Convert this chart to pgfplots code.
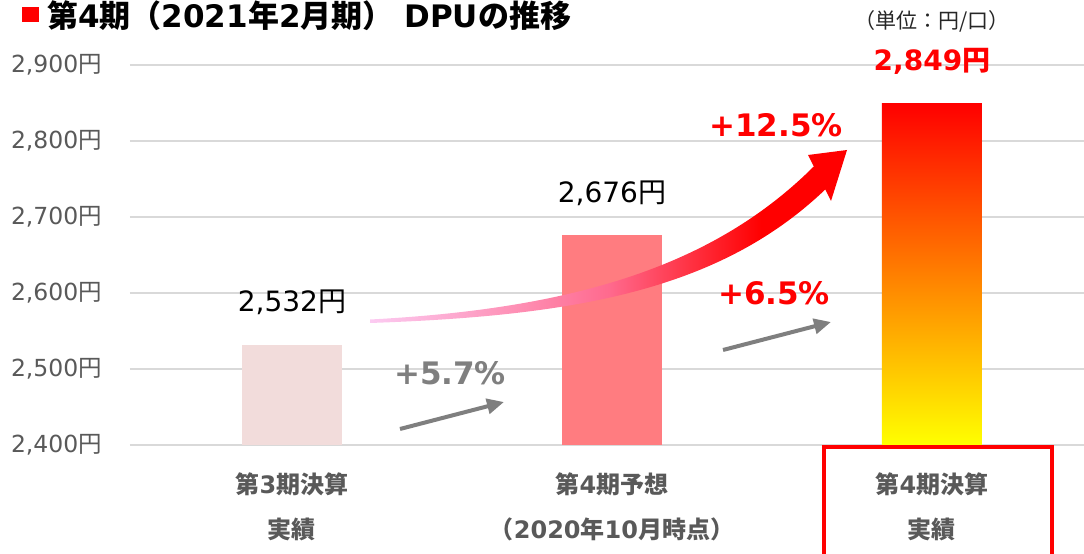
\documentclass[border=0pt]{standalone}
\usepackage{pgfplots}
\pgfplotsset{compat=1.18}
\usetikzlibrary{arrows.meta}
\usepackage{fontspec}
\setmainfont{DejaVu Sans}
\newfontfamily\cjk{Noto Sans CJK JP}
\newcommand{\jp}[1]{{\cjk #1}}
\definecolor{barA}{HTML}{F2DCDB}
\definecolor{barB}{HTML}{FF7C80}
\definecolor{tickgray}{HTML}{595959}
\definecolor{pctgray}{HTML}{7F7F7F}
\definecolor{gridgray}{HTML}{D9D9D9}
\definecolor{arrowpinkA}{HTML}{FCCBF2}
\definecolor{arrowpinkB}{HTML}{FF6A8E}
\pgfdeclarehorizontalshading{bigarrow}{100bp}{color(0bp)=(arrowpinkA); color(25bp)=(arrowpinkA); color(50bp)=(arrowpinkB); color(66bp)=(red); color(100bp)=(red)}

\begin{document}
\begin{tikzpicture}[x=1pt,y=1pt]
\path[use as bounding box] (0,0) rectangle (1084,554);
% title and unit
\fill[red] (22,532) rectangle (39,547);
\node[anchor=base west, inner sep=0pt, font=\fontsize{31}{36}\selectfont\bfseries] at (47,526)
  {\jp{第}4\jp{期（}2021\jp{年}2\jp{月期）} DPU\jp{の推移}};
\node[font=\fontsize{21}{25}\selectfont, text=black!85] at (932,533) {\jp{（単位：円/口）}};

\begin{axis}[
  at={(130pt,109pt)}, anchor=south west,
  scale only axis, width=954pt, height=380.4pt,
  xmin=-0.506, xmax=2.475, ymin=2400, ymax=2900,
  axis line style={draw=none},
  major tick length=0pt,
  ytick={2400,2500,...,2900},
  ymajorgrids, grid style={gridgray, line width=2pt},
  yticklabel={\pgfmathprintnumber[assume math mode=true,1000 sep={,}]{\tick}\jp{円}},
  yticklabel style={anchor=east, inner sep=0pt, xshift=-28pt, text=tickgray, font=\fontsize{23.5}{27}\selectfont},
  xtick={0,1,2},
  xticklabels={{\jp{第}3\jp{期決算}\\\jp{実績}}, {\jp{第}4\jp{期予想}\\\jp{（}2020\jp{年}10\jp{月時点）}}, {\jp{第}4\jp{期決算}\\\jp{実績}}},
  xticklabel style={anchor=north, align=center, inner sep=0pt, yshift=-28pt, text=tickgray, font=\fontsize{24}{45}\selectfont\bfseries},
  nodes near coords={\pgfmathprintnumber[assume math mode=true,1000 sep={,},fixed,precision=0]{\pgfplotspointmeta}\jp{円}},
  every node near coord/.append style={anchor=center, yshift=42pt},
]
\addplot[ybar, bar width=100pt, bar shift=0pt, fill=barA, draw=none,
  every node near coord/.append style={font=\fontsize{28}{32}\selectfont, text=black}]
  coordinates {(0,2532)};
\addplot[ybar, bar width=100pt, bar shift=0pt, fill=barB, draw=none,
  every node near coord/.append style={font=\fontsize{28}{32}\selectfont, text=black}]
  coordinates {(1,2676)};
\addplot[ybar, bar width=100pt, bar shift=0pt, draw=none, top color=red, bottom color=yellow,
  every node near coord/.append style={font=\fontsize{28}{32}\selectfont\bfseries, text=red}]
  coordinates {(2,2849)};
\end{axis}

% growth arrows
\shade[shading=bigarrow] (370,234.5) .. controls (570,245) and (712,286) .. (813.75,387.5)
  -- (808,399) -- (847,404) -- (831,353) -- (825.25,364.5)
  .. controls (718,262) and (570,238) .. (370,231) -- cycle;
\draw[pctgray, line width=4pt, -{Triangle[length=17pt, width=15pt]}] (400,125) -- (504,152);
\draw[pctgray, line width=4pt, -{Triangle[length=17pt, width=15pt]}] (723,204) -- (831,232);
\node[font=\fontsize{31}{36}\selectfont\bfseries, text=red] at (776,429) {+12.5\%};
\node[font=\fontsize{31}{36}\selectfont\bfseries, text=red] at (774,261) {+6.5\%};
\node[font=\fontsize{31}{36}\selectfont\bfseries, text=pctgray] at (450,181) {+5.7\%};
% highlight box
\draw[red, line width=4pt] (824,-10) -- (824,107) -- (1052,107) -- (1052,-10);
\end{tikzpicture}
\end{document}
